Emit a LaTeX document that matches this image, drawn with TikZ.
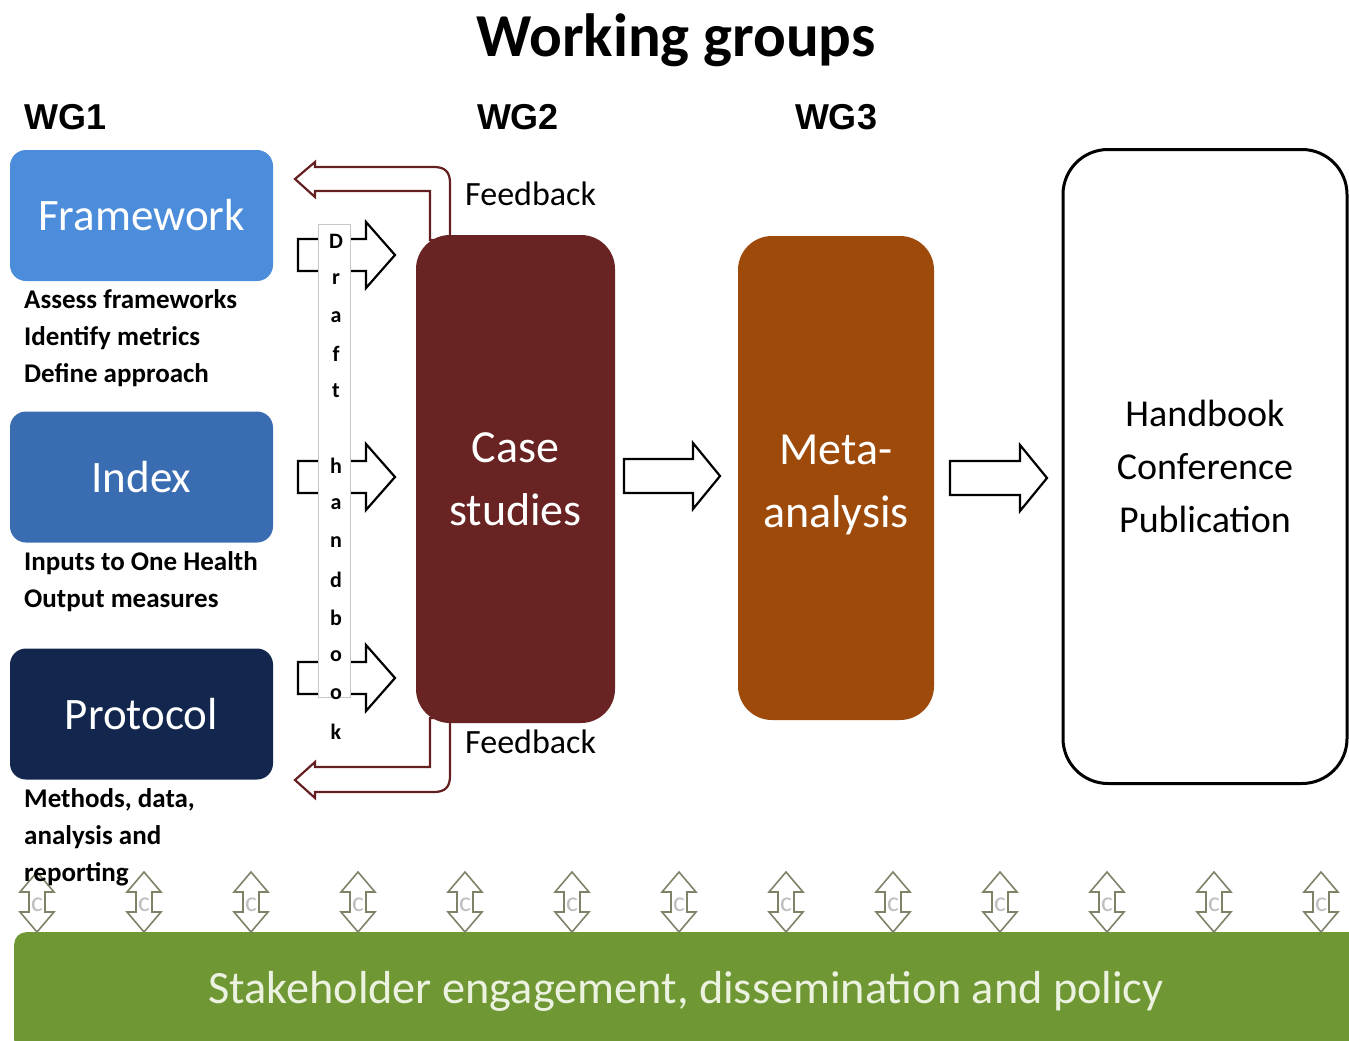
\documentclass[tikz,border=0pt]{standalone}
\usepackage{fontspec}
\setmainfont{Carlito}
\newfontfamily\wgfont{Liberation Sans}
\newcommand\myfs[2]{\fontsize{#1}{#2}\selectfont}
\definecolor{cFrame}{RGB}{75,141,218}
\definecolor{cIndex}{RGB}{58,108,178}
\definecolor{cProt}{RGB}{19,39,78}
\definecolor{cCase}{RGB}{104,35,34}
\definecolor{cMeta}{RGB}{158,74,10}
\definecolor{cGreen}{RGB}{111,151,51}
\definecolor{cGreenTxt}{RGB}{236,242,224}
\definecolor{cFeed}{RGB}{100,32,32}
\definecolor{cSmall}{RGB}{128,130,104}
\newcommand\blockarrow[7]{\draw[#7] (#1,#4-#5) -- (#2,#4-#5) -- (#2,#4-#6) -- (#3,#4) -- (#2,#4+#6) -- (#2,#4+#5) -- (#1,#4+#5) -- cycle;}
\tikzset{
  wgbox/.style={rounded corners=16pt, minimum width=263pt, minimum height=131pt, inner sep=0pt, text=white, font=\myfs{45}{54}},
  desc/.style={anchor=west, align=left, inner sep=0pt, font=\myfs{27}{37}\bfseries},
  wglabel/.style={font=\wgfont\bfseries\myfs{36}{40}},
  bigbox/.style={rounded corners=34pt, inner sep=0pt, text=white, align=center, font=\myfs{46}{63}},
  barrow/.style={draw=black, fill=white, line width=2.2pt, line join=miter},
  feedarrow/.style={draw=cFeed, fill=white, line width=2.2pt},
  feedlbl/.style={font=\myfs{34}{40}, inner sep=0pt},
  letter/.style={font=\myfs{22}{24}\bfseries, inner sep=0pt},
  smallarrow/.style={draw=cSmall, fill=white, line width=1.6pt},
}
\begin{document}
\begin{tikzpicture}[x=1pt,y=-1pt]
\useasboundingbox (0,0) rectangle (1349,1041);
\clip (0,0) rectangle (1349,1041);

% title and WG labels
\node[font=\myfs{61}{70}\bfseries] (title) at (676,40) {Working groups};
\node[wglabel] (wg1) at (66,117) {WG1};
\node[wglabel] (wg2) at (518,117) {WG2};
\node[wglabel] (wg3) at (836,117) {WG3};

% WG1 boxes
\node[wgbox, fill=cFrame] (frame) at (141.5,215.5) {Framework};
\node[wgbox, fill=cIndex] (index) at (141.5,477) {Index};
\node[wgbox, fill=cProt] (prot) at (141.5,714) {Protocol};
\node[desc] (d1) at (24,338) {Assess frameworks\\Identify metrics\\Define approach};
\node[desc] (d2) at (24,581.5) {Inputs to One Health\\Output measures};

% bottom green bar and small double arrows
\node[fill=cGreen, rounded corners=12pt, minimum width=1400pt, minimum height=120pt, anchor=north west, inner sep=0pt] (green) at (14,932) {};
\node[text=cGreenTxt, font=\myfs{46.3}{50}] (greentxt) at (686,991) {Stakeholder engagement, dissemination and policy};
\foreach \i in {0,...,12}{
  \pgfmathsetmacro\xx{37+107*\i}
  \draw[smallarrow] (\xx,872) -- (\xx+17,892) -- (\xx+8,892) -- (\xx+8,912) -- (\xx+17,912) -- (\xx,932) -- (\xx-17,912) -- (\xx-8,912) -- (\xx-8,892) -- (\xx-17,892) -- cycle;
  \node[text=black!25, font=\myfs{28}{30}, inner sep=0pt] (c\i) at (\xx,905) {c};
}
\node[desc] (d3) at (24,837) {Methods, data,\\analysis and\\reporting};

% block arrows into case studies
\blockarrow{298}{366}{395}{255}{16}{33}{barrow}
\blockarrow{298}{366}{395}{477}{16}{33}{barrow}
\blockarrow{298}{366}{395}{678}{16}{33}{barrow}

% draft handbook strip
\node[draw=black!22, fill=white, line width=0.8pt, minimum width=32pt, minimum height=473pt, inner sep=0pt, anchor=north west] (strip) at (318,224) {};
\foreach \c/\yy [count=\k] in {D/241,r/279,a/317,f/354,t/391,h/466,a/504,n/542,d/580,b/618,o/656,o/694,k/732}{
  \node[letter] (l\k) at (336,\yy) {\c};
}

% feedback arrows
\draw[feedarrow] (430,240) -- (430,191) -- (315,191) -- (315,197) -- (295,179) -- (315,162) -- (315,167) -- (434,167) .. controls (445,167) and (450,172) .. (450,183) -- (450,240) -- cycle;
\draw[feedarrow] (430,718) -- (430,767) -- (315,767) -- (315,762) -- (295,780) -- (315,798) -- (315,792) -- (434,792) .. controls (445,792) and (450,787) .. (450,776) -- (450,718) -- cycle;
\node[feedlbl, anchor=west] (fb1) at (465,194) {Feedback};
\node[feedlbl, anchor=west] (fb2) at (465,742) {Feedback};

% main boxes
\node[bigbox, fill=cCase, minimum width=199pt, minimum height=488pt] (case) at (515.5,479) {Case\\studies};
\node[bigbox, fill=cMeta, minimum width=196pt, minimum height=484pt] (meta) at (836,478) {};
\node[text=white, align=center, font=\myfs{46}{63}, inner sep=0pt] (metatxt) at (836,485) {Meta-\\analysis};
\node[draw=black, line width=3pt, rounded corners=45pt, fill=white, minimum width=284pt, minimum height=634pt, inner sep=0pt, align=center, font=\myfs{38}{53}] (hand) at (1205,466.5) {Handbook\\Conference\\Publication};

% arrows between boxes
\blockarrow{624}{693}{720}{476}{17}{33}{barrow}
\blockarrow{950}{1020}{1047}{478}{17}{33}{barrow}
\end{tikzpicture}
\end{document}
